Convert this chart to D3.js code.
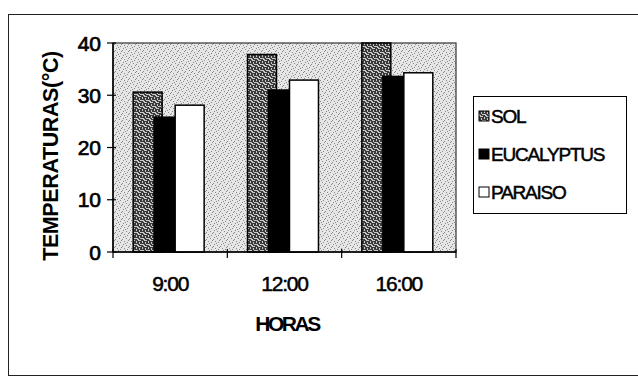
<!DOCTYPE html>
<html>
<head>
<meta charset="utf-8">
<script src="https://cdn.jsdelivr.net/npm/d3@7"></script>
<style>
  body { margin: 0; background: #fff; }
  svg { display: block; font-family: "Liberation Sans", Arial, sans-serif; }
</style>
</head>
<body>
<svg id="chart" width="638" height="377"></svg>
<script>
const horas = ['9:00', '12:00', '16:00'];
const series = ['SOL', 'EUCALYPTUS', 'PARAISO'];
const sol = [30.6, 37.8, 40];
const eucalyptus = [25.8, 31, 33.6];
const paraiso = [28.1, 32.9, 34.3];
const yTicks = [0, 10, 20, 30, 40];

const values = [sol, eucalyptus, paraiso];

const width = 638, height = 377;
const plot = { left: 113, right: 456, top: 43, bottom: 252 };

const svg = d3.select('#chart');

// textures: stippled background and the dark SOL pattern
const defs = svg.append('defs');
let bg = defs.append('pattern')
  .attr('id', 'stipple')
  .attr('width', 7).attr('height', 7)
  .attr('patternUnits', 'userSpaceOnUse');
bg.append('rect').attr('width', 7).attr('height', 7).attr('fill', '#e6e6e6');
[[0, 0], [3, 1], [5, 3], [1, 4], [4, 6], [6, 5], [2, 2]].forEach(p => {
  bg.append('rect').attr('x', p[0]).attr('y', p[1])
    .attr('width', 1).attr('height', 1).attr('fill', '#8a8a8a');
});

let solPat = defs.append('pattern')
  .attr('id', 'solpat')
  .attr('width', 6).attr('height', 6)
  .attr('patternUnits', 'userSpaceOnUse');
solPat.append('rect').attr('width', 6).attr('height', 6).attr('fill', '#3a3a3a');
[[0, 0, 3, 1], [4, 1, 1, 2], [1, 2, 1, 2], [2, 4, 3, 1], [5, 4, 1, 2], [0, 5, 1, 1]].forEach(p => {
  solPat.append('rect').attr('x', p[0]).attr('y', p[1])
    .attr('width', p[2]).attr('height', p[3]).attr('fill', '#c8c8c8');
});

const fills = ['url(#solpat)', '#000', '#fff'];

// outer frame
svg.append('rect')
  .attr('x', 8.5).attr('y', 14.5)
  .attr('width', 640).attr('height', 361)
  .attr('fill', 'none')
  .attr('stroke', '#222')
  .attr('stroke-width', 1);

let x0 = d3.scaleBand()
  .domain(horas)
  .range([plot.left, plot.right]);

let x1 = d3.scaleBand()
  .domain(series)
  .range([0, 63]);

const barW = x1.step() * 1.38;

let y = d3.scaleLinear()
  .domain([0, 40])
  .range([plot.bottom, plot.top]);

// plot area
svg.append('rect')
  .attr('x', plot.left).attr('y', plot.top)
  .attr('width', plot.right - plot.left)
  .attr('height', plot.bottom - plot.top)
  .attr('fill', 'url(#stipple)')
  .attr('stroke', '#333')
  .attr('stroke-width', 1.2);

// bars, drawn series by series so later ones overlap
let g = svg.append('g');
series.forEach((s, si) => {
  g.selectAll('rect.s' + si)
    .data(values[si])
    .enter()
    .append('rect')
    .attr('class', 's' + si)
    .attr('x', (d, i) => x0(horas[i]) + x0.bandwidth() / 2 - 37 + x1(s))
    .attr('y', d => y(d))
    .attr('width', barW)
    .attr('height', d => y(0) - y(d))
    .attr('fill', fills[si])
    .attr('stroke', '#000')
    .attr('stroke-width', 1.5);
});

// y axis
let yAxis = svg.append('g');
yAxis.append('line')
  .attr('x1', plot.left).attr('x2', plot.left)
  .attr('y1', plot.top).attr('y2', plot.bottom)
  .attr('stroke', '#000').attr('stroke-width', 1.5);
yAxis.selectAll('line.tick')
  .data(yTicks)
  .enter()
  .append('line')
  .attr('class', 'tick')
  .attr('x1', plot.left - 6).attr('x2', plot.left + 3)
  .attr('y1', d => y(d)).attr('y2', d => y(d))
  .attr('stroke', '#000').attr('stroke-width', 1.2);
yAxis.selectAll('text')
  .data(yTicks)
  .enter()
  .append('text')
  .attr('x', plot.left - 12)
  .attr('y', d => y(d) + 7.5)
  .attr('text-anchor', 'end')
  .attr('font-size', 21)
  .attr('stroke', '#000').attr('stroke-width', 0.7)
  .text(d => d);

// x axis
let xAxis = svg.append('g');
xAxis.append('line')
  .attr('x1', plot.left).attr('x2', plot.right)
  .attr('y1', plot.bottom).attr('y2', plot.bottom)
  .attr('stroke', '#000').attr('stroke-width', 1.5);
const bounds = horas.map(h => x0(h)).concat([plot.right]);
xAxis.selectAll('line.tick')
  .data(bounds)
  .enter()
  .append('line')
  .attr('class', 'tick')
  .attr('x1', d => d).attr('x2', d => d)
  .attr('y1', plot.bottom - 3).attr('y2', plot.bottom + 6)
  .attr('stroke', '#000').attr('stroke-width', 1.2);
xAxis.selectAll('text')
  .data(horas)
  .enter()
  .append('text')
  .attr('x', d => x0(d) + x0.bandwidth() / 2)
  .attr('y', 291)
  .attr('text-anchor', 'middle')
  .attr('font-size', 21)
  .attr('stroke', '#000').attr('stroke-width', 0.5)
  .attr('letter-spacing', -1.2)
  .text(d => d);

// axis titles
svg.append('text')
  .attr('x', 287)
  .attr('y', 331)
  .attr('text-anchor', 'middle')
  .attr('font-size', 21)
  .attr('font-weight', 'bold')
  .attr('letter-spacing', -2.5)
  .text('HORAS');

svg.append('text')
  .attr('transform', 'translate(58,156) rotate(-90)')
  .attr('text-anchor', 'middle')
  .attr('font-size', 21.5)
  .attr('font-weight', 'bold')
  .attr('letter-spacing', -0.4)
  .text('TEMPERATURAS(°C)');

// legend
let legend = svg.append('g');
legend.append('rect')
  .attr('x', 473.5).attr('y', 96.5)
  .attr('width', 153).attr('height', 117)
  .attr('fill', '#fff')
  .attr('stroke', '#000')
  .attr('stroke-width', 1);
let items = legend.selectAll('g.item')
  .data(series)
  .enter()
  .append('g')
  .attr('class', 'item')
  .attr('transform', (d, i) => 'translate(0,' + (116 + i * 38) + ')');
items.append('rect')
  .attr('x', 479).attr('y', -5)
  .attr('width', 10).attr('height', 10)
  .attr('fill', (d, i) => fills[i])
  .attr('stroke', '#000')
  .attr('stroke-width', 1);
items.append('text')
  .attr('x', 491)
  .attr('y', 6.5)
  .attr('font-size', 19)
  .attr('stroke', '#000').attr('stroke-width', 0.5)
  .attr('letter-spacing', -1.2)
  .text(d => d);
</script>
</body>
</html>
